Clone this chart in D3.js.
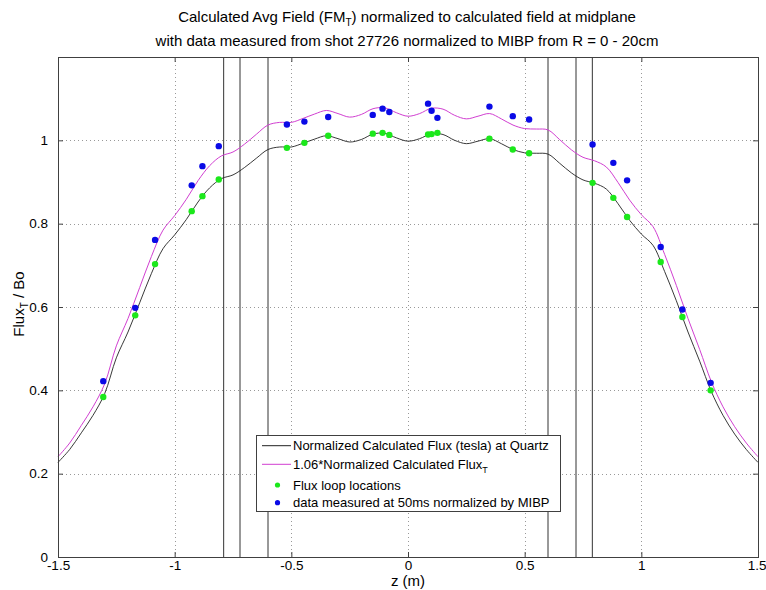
<!DOCTYPE html>
<html>
<head>
<meta charset="utf-8">
<script src="https://cdn.jsdelivr.net/npm/d3@7"></script>
<style>
  body { margin: 0; background: #fff; }
  svg { display: block; font-family: "Liberation Sans", Arial, sans-serif; }
</style>
</head>
<body>
<script>
// Calculated normalized flux along z (black curve)
const zGrid = [-1.5, -1.45, -1.4, -1.35, -1.3, -1.25, -1.2, -1.15, -1.1, -1.05, -1.0, -0.95, -0.9, -0.85, -0.8,
  -0.75, -0.7, -0.65, -0.6, -0.55, -0.5, -0.45, -0.4, -0.35, -0.3, -0.25, -0.2, -0.15, -0.1, -0.05, 0,
  0.05, 0.1, 0.15, 0.2, 0.25, 0.3, 0.35, 0.4, 0.45, 0.5, 0.55, 0.6, 0.65, 0.7, 0.75, 0.8, 0.85, 0.9, 0.95,
  1.0, 1.05, 1.1, 1.15, 1.2, 1.25, 1.3, 1.35, 1.4, 1.45, 1.5];
const fluxCalc = [0.227, 0.258, 0.298, 0.340, 0.392, 0.478, 0.540, 0.610, 0.680, 0.740, 0.773, 0.810, 0.852, 0.886, 0.908,
  0.917, 0.935, 0.957, 0.978, 0.984, 0.984, 0.993, 1.003, 1.011, 1.004, 0.996, 1.002, 1.015, 1.017, 1.006, 0.998,
  1.004, 1.016, 1.014, 1.000, 0.992, 0.998, 1.004, 0.992, 0.978, 0.970, 0.969, 0.967, 0.945, 0.922, 0.905, 0.897, 0.883, 0.848, 0.808,
  0.775, 0.748, 0.685, 0.615, 0.540, 0.470, 0.397, 0.340, 0.295, 0.258, 0.227];
const scaleFactor = 1.06;

// Flux loop positions and values
const loopZ = [-1.306, -1.169, -1.084, -0.927, -0.881, -0.811, -0.519, -0.444, -0.342, -0.151, -0.109, -0.080,
  0.086, 0.101, 0.126, 0.349, 0.449, 0.519, 0.791, 0.880, 0.939, 1.083, 1.176, 1.297];
const loopCalc = [0.384, 0.580, 0.703, 0.830, 0.866, 0.906, 0.982, 0.994, 1.011, 1.016, 1.018, 1.013,
  1.014, 1.015, 1.018, 1.004, 0.978, 0.969, 0.898, 0.862, 0.816, 0.708, 0.576, 0.400];
const loopMeasured = [0.422, 0.598, 0.761, 0.892, 0.938, 0.986, 1.038, 1.045, 1.056, 1.061, 1.076, 1.068,
  1.088, 1.071, 1.054, 1.081, 1.058, 1.050, 0.990, 0.946, 0.904, 0.744, 0.594, 0.418];

// Vertical marker lines
const markerZ = [-0.79, -0.72, -0.6, 0.6, 0.72, 0.79];

const xTicks = [-1.5, -1, -0.5, 0, 0.5, 1, 1.5];
const yTicks = [0, 0.2, 0.4, 0.6, 0.8, 1];

const width = 766, height = 590;
const mLeft = 58, mRight = 758, mTop = 57, mBottom = 557;

const svg = d3.select("body").append("svg")
  .attr("width", width)
  .attr("height", height);

const x = d3.scaleLinear().domain([-1.5, 1.5]).range([mLeft, mRight]);
const y = d3.scaleLinear().domain([0, 1.2]).range([mBottom, mTop]);

// grid
const grid = svg.append("g").attr("stroke", "#999").attr("stroke-dasharray", "1,3").attr("stroke-width", 1);
grid.selectAll(".gx").data(xTicks.slice(1, -1)).join("line")
  .attr("x1", d => Math.round(x(d)) + 0.5).attr("x2", d => Math.round(x(d)) + 0.5)
  .attr("y1", mTop).attr("y2", mBottom);
grid.selectAll(".gy").data(yTicks.slice(1)).join("line")
  .attr("y1", d => Math.round(y(d)) + 0.5).attr("y2", d => Math.round(y(d)) + 0.5)
  .attr("x1", mLeft).attr("x2", mRight);

// vertical markers
svg.append("g").selectAll("line").data(markerZ).join("line")
  .attr("x1", d => x(d)).attr("x2", d => x(d))
  .attr("y1", mTop).attr("y2", mBottom)
  .attr("stroke", "#333").attr("stroke-width", 1);

const line = d3.line().x(d => x(d[0])).y(d => y(d[1])).curve(d3.curveCatmullRom);

svg.append("path")
  .datum(zGrid.map((z, i) => [z, fluxCalc[i] * scaleFactor]))
  .attr("fill", "none").attr("stroke", "#d13fd1").attr("stroke-width", 1)
  .attr("d", line);

svg.append("path")
  .datum(zGrid.map((z, i) => [z, fluxCalc[i]]))
  .attr("fill", "none").attr("stroke", "#222").attr("stroke-width", 0.9)
  .attr("d", line);

svg.append("g").selectAll("circle").data(loopZ).join("circle")
  .attr("cx", d => x(d)).attr("cy", (d, i) => y(loopCalc[i])).attr("r", 3.2)
  .attr("fill", "#1be81b");

svg.append("g").selectAll("circle").data(loopZ).join("circle")
  .attr("cx", d => x(d)).attr("cy", (d, i) => y(loopMeasured[i])).attr("r", 3.2)
  .attr("fill", "#0a0ae6");

// axes box with inward ticks
const axisColor = "#404040";
const fmt = d => d === 0 ? "0" : String(d);
svg.append("g").attr("transform", `translate(0,${mBottom})`)
  .call(d3.axisBottom(x).tickValues(xTicks).tickSizeInner(-5).tickSizeOuter(0).tickPadding(3).tickFormat(fmt))
  .call(g => g.select(".domain").remove())
  .call(g => g.selectAll(".tick text").filter(d => d === 1.5).attr("text-anchor", "end").attr("x", 8));
svg.append("g").attr("transform", `translate(0,${mTop})`)
  .call(d3.axisTop(x).tickValues(xTicks).tickSizeInner(-5).tickSizeOuter(0).tickFormat(""))
  .call(g => g.select(".domain").remove());
svg.append("g").attr("transform", `translate(${mLeft},0)`)
  .call(d3.axisLeft(y).tickValues(yTicks).tickSizeInner(-5).tickSizeOuter(0).tickPadding(10).tickFormat(fmt))
  .call(g => g.select(".domain").remove());
svg.append("g").attr("transform", `translate(${mRight},0)`)
  .call(d3.axisRight(y).tickValues(yTicks).tickSizeInner(-5).tickSizeOuter(0).tickFormat(""))
  .call(g => g.select(".domain").remove());
svg.selectAll(".tick line").attr("stroke", axisColor);
svg.selectAll(".tick text").attr("fill", "#000").attr("font-size", 13.5)
  .attr("font-family", "'Liberation Sans', Arial, sans-serif");

svg.append("rect")
  .attr("x", mLeft + 0.5).attr("y", mTop + 0.5)
  .attr("width", mRight - mLeft).attr("height", mBottom - mTop)
  .attr("fill", "none").attr("stroke", axisColor);

// titles
const title = svg.append("text").attr("x", 407).attr("y", 22).attr("text-anchor", "middle").attr("font-size", 15);
title.append("tspan").text("Calculated Avg Field (FM");
title.append("tspan").attr("font-size", 10).attr("dy", 4).text("T");
title.append("tspan").attr("dy", -4).text(") normalized to calculated field at midplane");
svg.append("text").attr("x", 407).attr("y", 46).attr("text-anchor", "middle").attr("font-size", 15)
  .text("with data measured from shot 27726 normalized to MIBP from R = 0 - 20cm");

svg.append("text").attr("x", 408).attr("y", 586).attr("text-anchor", "middle").attr("font-size", 15)
  .text("z (m)");

const yl = svg.append("text").attr("transform", "translate(24,304) rotate(-90)")
  .attr("text-anchor", "middle").attr("font-size", 15);
yl.append("tspan").text("Flux");
yl.append("tspan").attr("font-size", 10).attr("dy", 4).text("T");
yl.append("tspan").attr("dy", -4).text(" / Bo");

// legend
const lg = svg.append("g");
lg.append("rect").attr("x", 256.5).attr("y", 435.5).attr("width", 304).attr("height", 76)
  .attr("fill", "#fff").attr("stroke", axisColor);
const rows = [445.7, 464.3, 485, 502.7];
lg.append("line").attr("x1", 262).attr("x2", 291).attr("y1", rows[0]).attr("y2", rows[0]).attr("stroke", "#222");
lg.append("line").attr("x1", 262).attr("x2", 291).attr("y1", rows[1]).attr("y2", rows[1]).attr("stroke", "#d13fd1");
lg.append("circle").attr("cx", 277.5).attr("cy", rows[2]).attr("r", 2.6).attr("fill", "#1be81b");
lg.append("circle").attr("cx", 277.5).attr("cy", rows[3]).attr("r", 2.6).attr("fill", "#0a0ae6");
const lt = (t, i) => lg.append("text").attr("x", 293).attr("y", rows[i] + 4.6).attr("font-size", 13).text(t);
lt("Normalized Calculated Flux (tesla) at Quartz", 0);
const t2 = lt("1.06*Normalized Calculated Flux", 1);
t2.append("tspan").attr("font-size", 9).attr("dy", 4).text("T");
lt("Flux loop locations", 2);
lt("data measured at 50ms normalized by MIBP", 3);
</script>
</body>
</html>
